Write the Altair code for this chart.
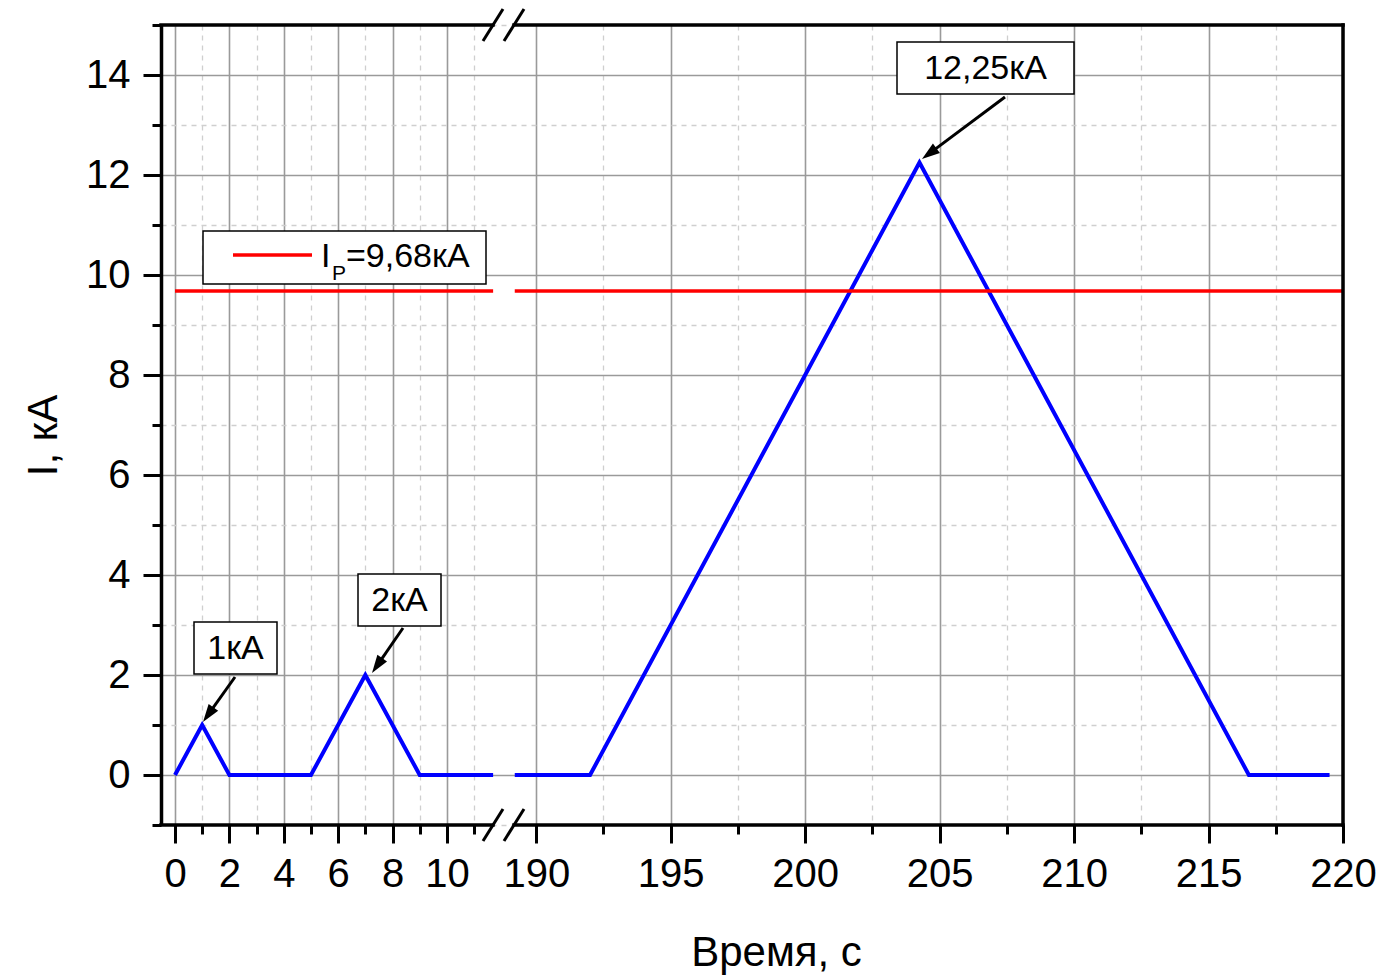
import altair as alt
import pandas as pd

# ---------------- data ----------------
left_t = [0, 1, 2, 5, 7, 9, 11.7]
left_i = [0, 1, 0, 0, 2, 0, 0]
right_t = [189.2, 192, 204.25, 216.5, 219.5]
right_i = [0, 0, 12.25, 0, 0]

ip_level = 9.68
ip_left_t = [0, 11.7]
ip_right_t = [189.2, 220]

x_major = [0, 2, 4, 6, 8, 10, 190, 195, 200, 205, 210, 215, 220]
x_minor = [1, 3, 5, 7, 9, 11, 192.5, 197.5, 202.5, 207.5, 212.5, 217.5]
y_major = [0, 2, 4, 6, 8, 10, 12, 14]
y_minor = [-1, 1, 3, 5, 7, 9, 11, 13, 15]

peak_labels = ["1кА", "2кА", "12,25кА"]
legend_main = "I"
legend_sub = "P"
legend_rest = "=9,68кА"
x_title = "Время, с"
y_title = "I, кА"

# broken axis: piecewise linear scale
x_domain = [-0.515, 12.1, 188.8, 220]

FONT = "Liberation Sans"
W, H = 1182, 800
x_range = [0, 343, 343, W]

# ---------------- tables ----------------
blue = pd.DataFrame({
    "t": left_t + right_t,
    "i": left_i + right_i,
    "seg": ["a"] * len(left_t) + ["b"] * len(right_t),
})
red = pd.DataFrame({
    "t": ip_left_t + ip_right_t,
    "i": [ip_level] * 4,
    "seg": ["a", "a", "b", "b"],
})

XMIN = "(datum.value < 100 ? (datum.value % 2 != 0) : (datum.value % 5 != 0))"
YMIN = "(abs(datum.value) % 2 == 1)"

def axis_common(test):
    return dict(
        ticks=True,
        tickColor="black",
        tickWidth=3,
        tickSize={"condition": {"test": test, "value": 9}, "value": 18},
        grid=True,
        gridColor={"condition": {"test": test, "value": "#cfcfcf"}, "value": "#9a9a9a"},
        gridDash={"condition": {"test": test, "value": [5, 5]}, "value": []},
        gridWidth={"condition": {"test": test, "value": 1.3}, "value": 1.6},
        labelFont=FONT,
        labelFontSize=40,
        labelColor="black",
        labelOverlap=False,
        labelFlush=False,
        titleFont=FONT,
        titleFontSize=42,
        titleFontWeight="normal",
        titleColor="black",
    )

xaxis = alt.Axis(
    values=sorted(x_major + x_minor),
    labelExpr=XMIN + " ? '' : datum.label",
    labelPadding=11,
    domain=False,
    title=x_title,
    titleX=615,
    titleY=140,
    titleAlign="center",
    titleBaseline="alphabetic",
    **axis_common(XMIN),
)
yaxis = alt.Axis(
    values=y_minor + y_major,
    labelExpr=YMIN + " ? '' : datum.label",
    domain=True,
    domainColor="black",
    domainWidth=3.5,
    labelPadding=13,
    title=y_title,
    titleAngle=270,
    titleX=-105,
    titleY=410,
    titleAlign="center",
    titleBaseline="alphabetic",
    **axis_common(YMIN),
)

xscale = alt.Scale(domain=x_domain, range=x_range, nice=False, zero=False)
yscale = alt.Scale(domain=[-1, 15], nice=False, zero=False)

X = alt.X("t:Q", scale=xscale, axis=xaxis)
Y = alt.Y("i:Q", scale=yscale, axis=yaxis)

blue_line = alt.Chart(blue).mark_line(
    color="#0000ff", strokeWidth=4, strokeJoin="miter"
).encode(x=X, y=Y, detail="seg:N")

red_line = alt.Chart(red).mark_line(
    color="#ff0000", strokeWidth=3.5
).encode(x=X, y=Y, detail="seg:N")

one = pd.DataFrame({"k": [0]})

def seg(x1, y1, x2, y2, width=3, color="black", cap="butt"):
    return alt.Chart(one).mark_rule(
        color=color, strokeWidth=width, strokeCap=cap
    ).encode(x=alt.value(x1), y=alt.value(y1), x2=alt.value(x2), y2=alt.value(y2))

def box(x1, y1, x2, y2):
    return alt.Chart(one).mark_rect(
        fill="white", stroke="black", strokeWidth=1.5
    ).encode(x=alt.value(x1), y=alt.value(y1), x2=alt.value(x2), y2=alt.value(y2))

def txt(s, x, y, size=34, align="center", baseline="middle"):
    return alt.Chart(one).mark_text(
        text=s, font=FONT, fontSize=size, color="black", align=align, baseline=baseline
    ).encode(x=alt.value(x), y=alt.value(y))

def head(x, y, ang):
    return alt.Chart(one).mark_point(
        shape="M0,-1L0.65,1L-0.65,1Z", filled=True, fill="black",
        strokeWidth=0, size=324, angle=ang, opacity=1
    ).encode(x=alt.value(x), y=alt.value(y))

layers = [blue_line, red_line]

# frame (top / bottom with break gap, right)
layers += [
    seg(0, 0, 332, 0, 3.5, cap="square"),
    seg(353, 0, W, 0, 3.5, cap="square"),
    seg(0, H, 332, H, 3.5, cap="square"),
    seg(353, H, W, H, 3.5, cap="square"),
    seg(W, 0, W, H, 3.5, cap="square"),
]
# break marks //
layers += [
    seg(322, 16, 342, -16, 3),
    seg(343, 16, 363, -16, 3),
    seg(322, H + 16, 342, H - 16, 3),
    seg(343, H + 16, 363, H - 16, 3),
]
# legend
layers += [
    box(42, 206, 325, 259),
    seg(72, 230, 151, 230, 3.5, color="#ff0000"),
    txt(legend_main, 160, 242, 34, align="left", baseline="alphabetic"),
    txt(legend_sub, 171, 255, 21, align="left", baseline="alphabetic"),
    txt(legend_rest, 185, 242, 34, align="left", baseline="alphabetic"),
]
# peak annotations
layers += [
    box(33, 597, 116, 649), txt(peak_labels[0], 74.5, 624),
    box(197, 549, 280, 601), txt(peak_labels[1], 238.5, 576),
    box(736, 17, 913, 69), txt(peak_labels[2], 824.5, 44),
    seg(74, 652, 47.2, 689.7, 3), head(47.2, 689.7, 215.4),
    seg(242, 603, 216.1, 640.6, 3), head(216.1, 640.6, 214.6),
    seg(844, 72, 768.2, 128.6, 3), head(768.2, 128.6, 233.3),
]

chart = alt.layer(*layers).properties(
    width=W,
    height=H,
    autosize=alt.AutoSizeParams(type="none"),
    padding={"left": 161, "top": 25, "right": 44, "bottom": 151},
    background="white",
).configure_view(stroke="transparent")

chart.save("out.html", embed_options={"renderer": "svg", "actions": False})
